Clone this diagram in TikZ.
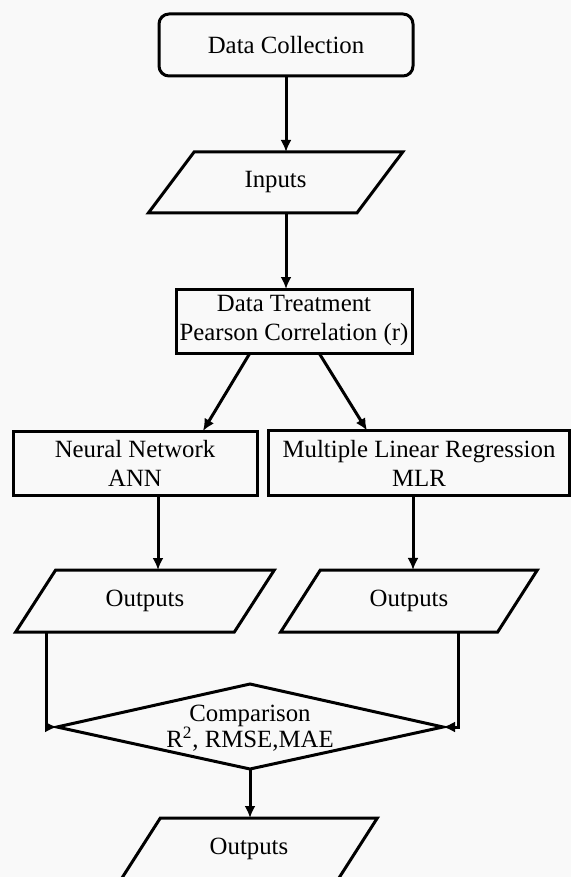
\documentclass[tikz,border=0pt]{standalone}
\usepackage{fontspec}
\setmainfont{Liberation Serif}
\usetikzlibrary{arrows.meta,shapes.geometric}
\definecolor{bgcol}{HTML}{F9F9F9}
\begin{document}
\begin{tikzpicture}[x=0.5pt,y=-0.5pt,
  every node/.style={font=\fontsize{12.4}{14.5}\selectfont, align=center, inner sep=0pt, outer sep=0pt},
  boxline/.style={draw=black, line width=1.5pt},
  procbox/.style={boxline, rectangle},
  startbox/.style={boxline, rectangle, rounded corners=5pt},
  iobox/.style={boxline, trapezium, trapezium left angle=51, trapezium right angle=129, trapezium stretches=true},
  flow/.style={line width=1.5pt, -{Latex[length=6pt,width=5.5pt]}}
]
\fill[bgcol] (0,0) rectangle (571,877);
\useasboundingbox (0,0) rectangle (571,877);

\node[startbox, minimum width=127pt, minimum height=31pt] (dc) at (286,45) {Data Collection};
\node[iobox, minimum width=127.5pt, minimum height=30.5pt] (inp) at (275.5,182.5) {Inputs};
\node[procbox, minimum width=118pt, minimum height=32pt] (dt) at (294,321) {Data Treatment\\Pearson Correlation (r)};
\node[procbox, minimum width=122pt, minimum height=32pt] (nn) at (135,463) {Neural Network\\ANN};
\node[procbox, minimum width=150.5pt, minimum height=32.5pt] (mlr) at (419,463) {Multiple Linear Regression\\MLR};
\node[iobox, minimum width=130pt, minimum height=31pt] (outl) at (145,601) {Outputs};
\node[iobox, minimum width=129pt, minimum height=31pt] (outr) at (409,601) {Outputs};

\coordinate (cmpT) at (250,684);
\coordinate (cmpB) at (250,769);
\coordinate (cmpL) at (57,727);
\coordinate (cmpR) at (443,727);
\draw[boxline, line join=miter] (cmpT) -- (cmpR) -- (cmpB) -- (cmpL) -- cycle;
\node[font=\fontsize{12.4}{13}\selectfont] (cmp) at (250,728) {Comparison\\R\textsuperscript{2}, RMSE,MAE};

\node[iobox, minimum width=129pt, minimum height=31pt] (outb) at (249,849) {Outputs};

\draw[flow] (dc.south) -- (dc.south |- inp.north);
\draw[flow] (dc.south |- inp.south) -- (dc.south |- dt.north);
\draw[flow] ([xshift=-22pt]dt.south) -- ([xshift=34pt]nn.north);
\draw[flow] ([xshift=12.5pt]dt.south) -- ([xshift=-26pt]mlr.north);
\draw[flow] ([xshift=11.5pt]nn.south) -- ([xshift=11.5pt]nn.south |- outl.north);
\draw[flow] ([xshift=-3pt]mlr.south) -- ([xshift=-3pt]mlr.south |- outr.north);
\draw[flow] ([xshift=-49.5pt]outl.south) |- (cmpL);
\draw[flow] ([xshift=24.5pt]outr.south) |- (cmpR);
\draw[flow] (cmpB) -- (cmpB |- outb.north);
\end{tikzpicture}
\end{document}
